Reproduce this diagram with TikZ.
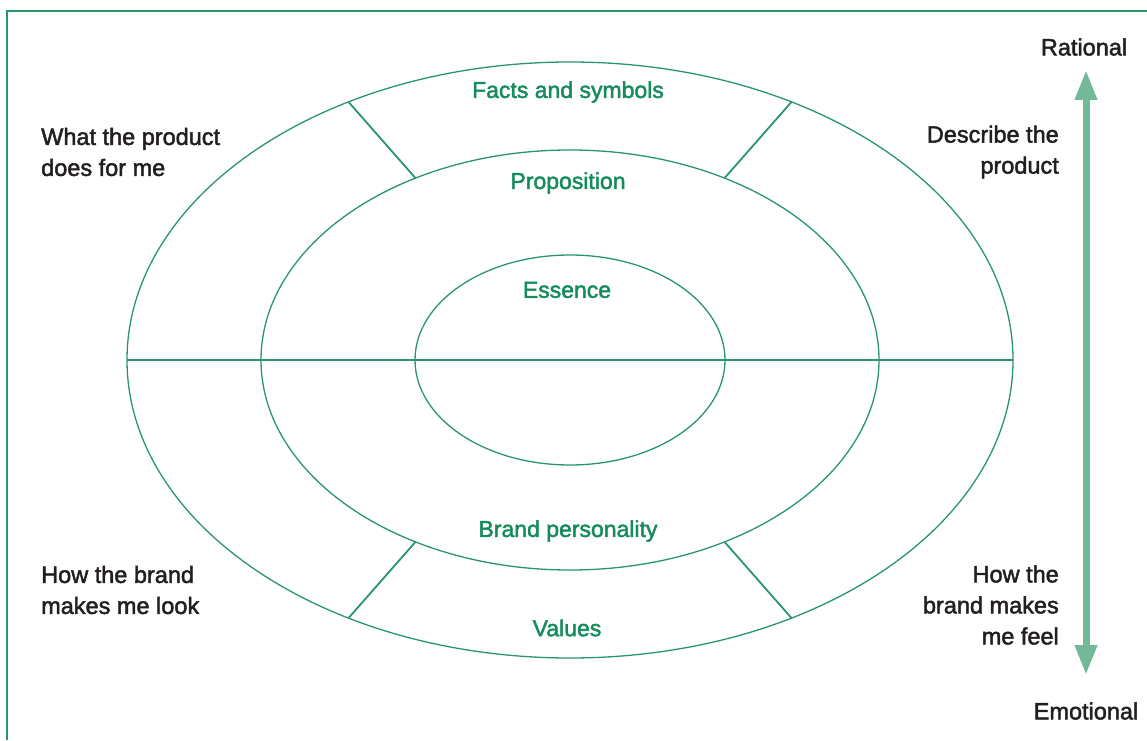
\documentclass[tikz,border=0pt]{standalone}
\usepackage{fontspec}
\setmainfont[FakeBold=2]{Liberation Sans}
\usetikzlibrary{arrows.meta,positioning,calc}
\definecolor{ringgreen}{RGB}{40,150,105}
\definecolor{labelgreen}{RGB}{22,140,92}
\definecolor{arrowgreen}{RGB}{115,184,152}
\definecolor{darktext}{RGB}{35,31,32}

\begin{document}
\begin{tikzpicture}[
    x=1pt, y=1pt,
    ring/.style={draw=ringgreen, line width=1.3pt},
    spoke/.style={draw=ringgreen, line width=1.8pt},
    ringlabel/.style={font=\fontsize{23}{31}\selectfont, text=labelgreen, inner sep=0pt},
    sidelabel/.style={font=\fontsize{23.5}{31}\selectfont, text=darktext, inner sep=0pt},
    axis/.style={{Triangle[width=21pt,length=30pt]}-{Triangle[width=21pt,length=30pt]}, line width=7pt, arrowgreen}
]
\useasboundingbox (0,0) rectangle (1147,740);

% Frame (left and top edges)
\draw[ringgreen, line width=1.8pt] (7,0) -- (7,729) -- (1147,729);

% Rings
\coordinate (c) at (570,380);
\draw[ring] (c) ellipse [x radius=443, y radius=298];
\draw[ring] (c) ellipse [x radius=309, y radius=210];
\draw[ring] (c) ellipse [x radius=155, y radius=105];

% Horizontal divider
\coordinate (ow) at ($(c)+(-443,0)$);
\coordinate (mw) at ($(c)+(-309,0)$);
\coordinate (me) at ($(c)+(309,0)$);
\coordinate (oe) at ($(c)+(443,0)$);
\draw[ringgreen, line width=2.4pt] (ow) -- (mw);
\draw[ringgreen, line width=1.5pt] (mw) -- (me);
\draw[ringgreen, line width=2.4pt] (me) -- (oe);

% Spokes between middle and outer ring
\foreach \a/\n in {60/ne, 120/nw, 240/sw, 300/se} {
  \coordinate (m\n) at ($(c)+(\a:309pt and 210pt)$);
  \coordinate (o\n) at ($(c)+(\a:443pt and 298pt)$);
  \draw[spoke] (m\n) -- (o\n);
}

% Ring labels
\node[ringlabel] (facts) at (568,648) {Facts and symbols};
\node[ringlabel] (prop) at (568,557) {Proposition};
\node[ringlabel] (essence) at (567,450) {Essence};
\node[ringlabel] (personality) at (568,209) {Brand personality};
\node[ringlabel] (values) at (567,112) {Values};

% Side labels
\node[sidelabel, anchor=west, align=left] (does) at (41,588) {What the product\\does for me};
\node[sidelabel, anchor=east, align=right] (describe) at (1059,588) {Describe the\\product};
\node[sidelabel, anchor=west, align=left] (look) at (41,150) {How the brand\\makes me look};
\node[sidelabel, anchor=east, align=right] (feel) at (1059,135) {How the\\brand makes\\me feel};

% Rational / Emotional axis
\node[sidelabel] (rational) at (1084,693) {Rational};
\node[sidelabel] (emotional) at (1086,29) {Emotional};
\coordinate (axtop) at (1086,670);
\coordinate (axbot) at (1086,65);
\draw[axis] (axbot) -- (axtop);

\end{tikzpicture}
\end{document}
